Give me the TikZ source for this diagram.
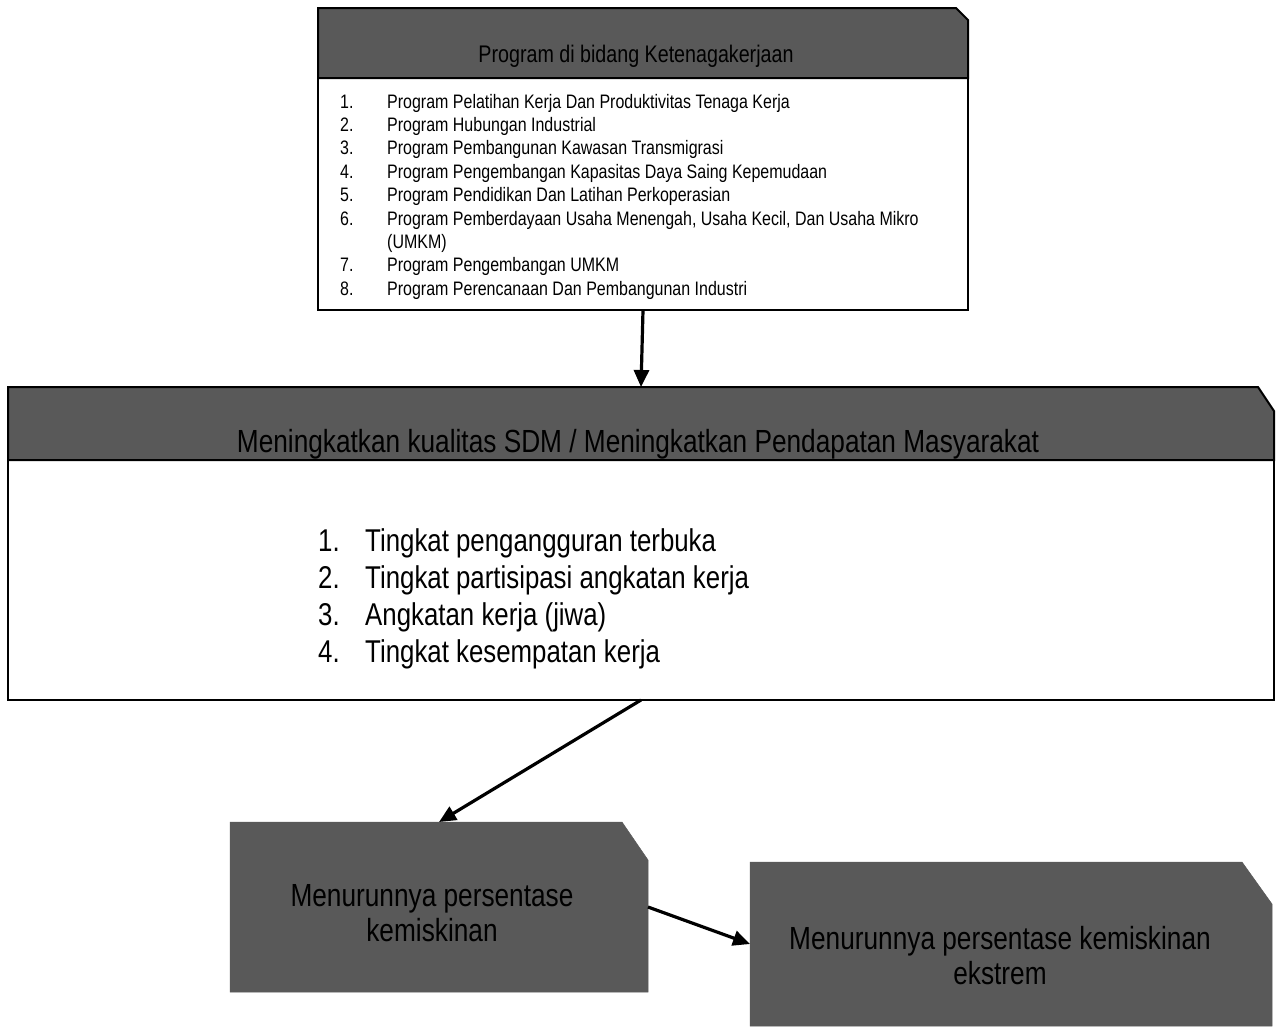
\documentclass[tikz,border=0pt]{standalone}
\usepackage{fontspec}
\setmainfont{Liberation Sans}[FakeStretch=0.82]
\usetikzlibrary{arrows.meta}
\definecolor{boxgray}{HTML}{595959}
\begin{document}
\begin{tikzpicture}[x=1pt,y=-1pt,
  frame/.style={inner sep=0pt, outer sep=0pt, anchor=north west},
  arr/.style={line width=3.2pt, -{Triangle[length=17pt,width=15pt]}},
  hdr/.style={fill=boxgray, draw=black, line width=2pt},
  flat/.style={fill=boxgray, draw=boxgray, line width=0.5pt},
  listbox/.style={draw=black, fill=white, line width=2.5pt},
  txt/.style={inner sep=0pt, text=black}
]
\useasboundingbox (0,0) rectangle (1276,1026);

% ---------- top box ----------
\node[frame, minimum width=650pt, minimum height=70pt] (tophead) at (318,8) {};
\node[frame, minimum width=650pt, minimum height=232pt] (toplist) at (318,78) {};
\filldraw[listbox] (toplist.north west) rectangle (toplist.south east);
\filldraw[hdr] (tophead.south west) -- (tophead.north west) -- ([xshift=-12pt]tophead.north east)
  -- ([yshift=-12pt]tophead.north east) -- (tophead.south east) -- cycle;
\node[txt, font=\fontsize{24}{28}\selectfont] (topheadtxt) at (636,56) {Program di bidang Ketenagakerjaan};
\node[txt, anchor=base west, font=\fontsize{19.5}{23.4}\selectfont] (toplisttxt) at (340,108)
{\begin{tabular}[t]{@{}p{47pt}@{}l@{}}
1. & Program Pelatihan Kerja Dan Produktivitas Tenaga Kerja\\
2. & Program Hubungan Industrial\\
3. & Program Pembangunan Kawasan Transmigrasi\\
4. & Program Pengembangan Kapasitas Daya Saing Kepemudaan\\
5. & Program Pendidikan Dan Latihan Perkoperasian\\
6. & Program Pemberdayaan Usaha Menengah, Usaha Kecil, Dan Usaha Mikro\\
   & (UMKM)\\
7. & Program Pengembangan UMKM\\
8. & Program Perencanaan Dan Pembangunan Industri
\end{tabular}};

% ---------- middle box ----------
\node[frame, minimum width=1266pt, minimum height=73pt] (midhead) at (8,387) {};
\node[frame, minimum width=1266pt, minimum height=240pt] (midlist) at (8,460) {};
\filldraw[listbox, line width=2pt] (midlist.north west) rectangle (midlist.south east);
\filldraw[hdr] (midhead.south west) -- (midhead.north west) -- ([xshift=-16pt]midhead.north east)
  -- ([yshift=-24pt]midhead.north east) -- (midhead.south east) -- cycle;
\node[txt, font=\fontsize{32}{36}\selectfont] (midheadtxt) at (638,444)
  {Meningkatkan kualitas SDM / Meningkatkan Pendapatan Masyarakat};
\node[txt, anchor=base west, font=\fontsize{31.5}{37}\selectfont] (midlisttxt) at (318,551)
{\begin{tabular}[t]{@{}p{47pt}@{}l@{}}
1. & Tingkat pengangguran terbuka\\
2. & Tingkat partisipasi angkatan kerja\\
3. & Angkatan kerja (jiwa)\\
4. & Tingkat kesempatan kerja
\end{tabular}};

% ---------- bottom boxes ----------
\node[frame, minimum width=418pt, minimum height=170pt] (bl) at (230,822) {};
\filldraw[flat] (bl.south west) -- (bl.north west) -- ([xshift=-26pt]bl.north east)
  -- ([yshift=-38pt]bl.north east) -- (bl.south east) -- cycle;
\node[txt, align=center, font=\fontsize{32}{35}\selectfont] (bltxt) at (432,913)
  {Menurunnya persentase\\kemiskinan};

\node[frame, minimum width=522pt, minimum height=164pt] (br) at (750,862) {};
\filldraw[flat] (br.south west) -- (br.north west) -- ([xshift=-30pt]br.north east)
  -- ([yshift=-42pt]br.north east) -- (br.south east) -- cycle;
\node[txt, align=center, font=\fontsize{32}{35}\selectfont] (brtxt) at (1000,956)
  {Menurunnya persentase kemiskinan\\ekstrem};

% ---------- connectors ----------
\draw[arr] (toplist.south) -- (midhead.north);
\draw[arr] (midlist.south) -- (bl.north);
\draw[arr] (bl.east) -- (br.west);
\end{tikzpicture}
\end{document}
